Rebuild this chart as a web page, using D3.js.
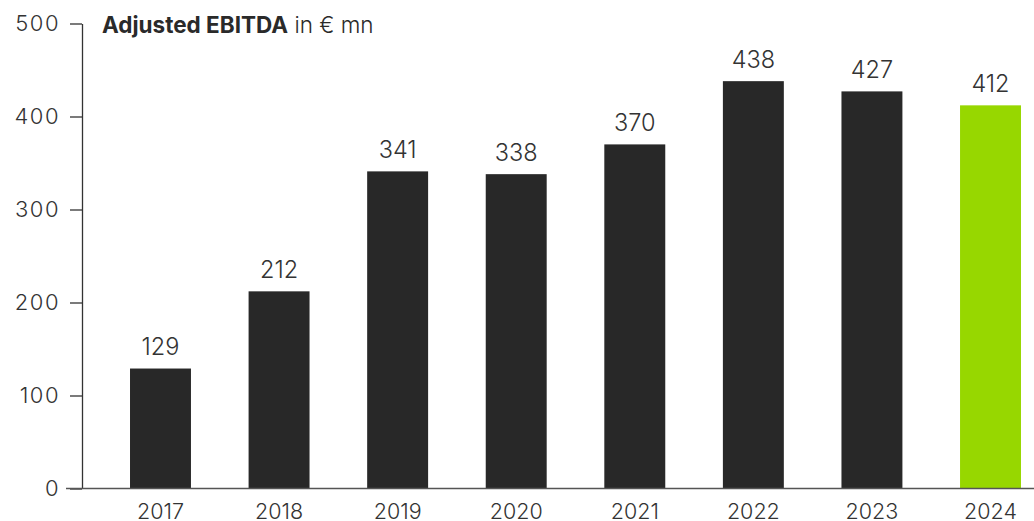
<!DOCTYPE html>
<html>
<head>
<meta charset="utf-8">
<script src="https://cdn.jsdelivr.net/npm/d3@7"></script>
<style>
  html, body { margin: 0; padding: 0; background: #fff; }
  svg { display: block; font-family: "Inter", "Lato", sans-serif; }
</style>
</head>
<body>
<svg id="chart" width="1034" height="521"></svg>
<script>
// Adjusted EBITDA, € mn
const years = ["2017", "2018", "2019", "2020", "2021", "2022", "2023", "2024"];
const ebitda = [129, 212, 341, 338, 370, 438, 427, 412];
const yTicks = [0, 100, 200, 300, 400, 500];
const highlightYear = "2024";

const svg = d3.select("#chart");

const x = d3.scaleBand()
  .domain(years)
  .range([101.2, 1049.8])
  .paddingInner(0.486)
  .paddingOuter(0.243);

const y = d3.scaleLinear()
  .domain([0, 500])
  .range([488.5, 23.5]);

const axisX = 82;
const rows = years.map((yr, i) => ({ yr, v: ebitda[i] }));

// bars
svg.append("g")
  .selectAll("rect")
  .data(rows)
  .join("rect")
  .attr("x", d => x(d.yr))
  .attr("width", x.bandwidth())
  .attr("y", d => y(d.v))
  .attr("height", d => y(0) - y(d.v))
  .attr("fill", d => d.yr === highlightYear ? "#97d700" : "#282828");

// value labels
svg.append("g")
  .selectAll("text")
  .data(rows)
  .join("text")
  .attr("x", d => x(d.yr) + x.bandwidth() / 2)
  .attr("y", d => y(d.v) - 13.5)
  .attr("text-anchor", "middle")
  .attr("font-size", 23.5)
  .attr("font-weight", 300)
  .attr("fill", "#333")
  .text(d => d.v);

// y axis
const yAxis = d3.axisLeft(y)
  .tickValues(yTicks)
  .tickSize(12)
  .tickPadding(10)
  .tickSizeOuter(0);

const gy = svg.append("g")
  .attr("transform", `translate(${axisX},0)`)
  .call(yAxis);
gy.select(".domain").attr("stroke", "#333").attr("stroke-width", 1.3);
gy.selectAll(".tick line").attr("stroke", "#333").attr("stroke-width", 1.3);
gy.selectAll(".tick text")
  .attr("font-size", 22)
  .attr("font-weight", 300)
  .attr("letter-spacing", 1.5)
  .attr("fill", "#333")
  .attr("font-family", "Inter, Lato, sans-serif");

// x axis baseline and year labels
const xAxis = d3.axisBottom(x).tickSize(0).tickPadding(15);
const gx = svg.append("g")
  .attr("transform", `translate(0,${y(0)})`)
  .call(xAxis);
gx.select(".domain").remove();
gx.append("line")
  .attr("x1", axisX - 16)
  .attr("x2", 1034)
  .attr("stroke", "#555")
  .attr("stroke-width", 1.5);
gx.selectAll(".tick text")
  .attr("font-size", 21.5)
  .attr("font-weight", 300)
  .attr("fill", "#333")
  .attr("font-family", "Inter, Lato, sans-serif");

// title
const title = svg.append("text")
  .attr("x", 102)
  .attr("y", 33)
  .attr("font-size", 22.5)
  .attr("fill", "#2a2a2a");
title.append("tspan").attr("font-weight", 700).text("Adjusted EBITDA");
title.append("tspan").attr("font-weight", 300).text(" in € mn");
</script>
</body>
</html>
